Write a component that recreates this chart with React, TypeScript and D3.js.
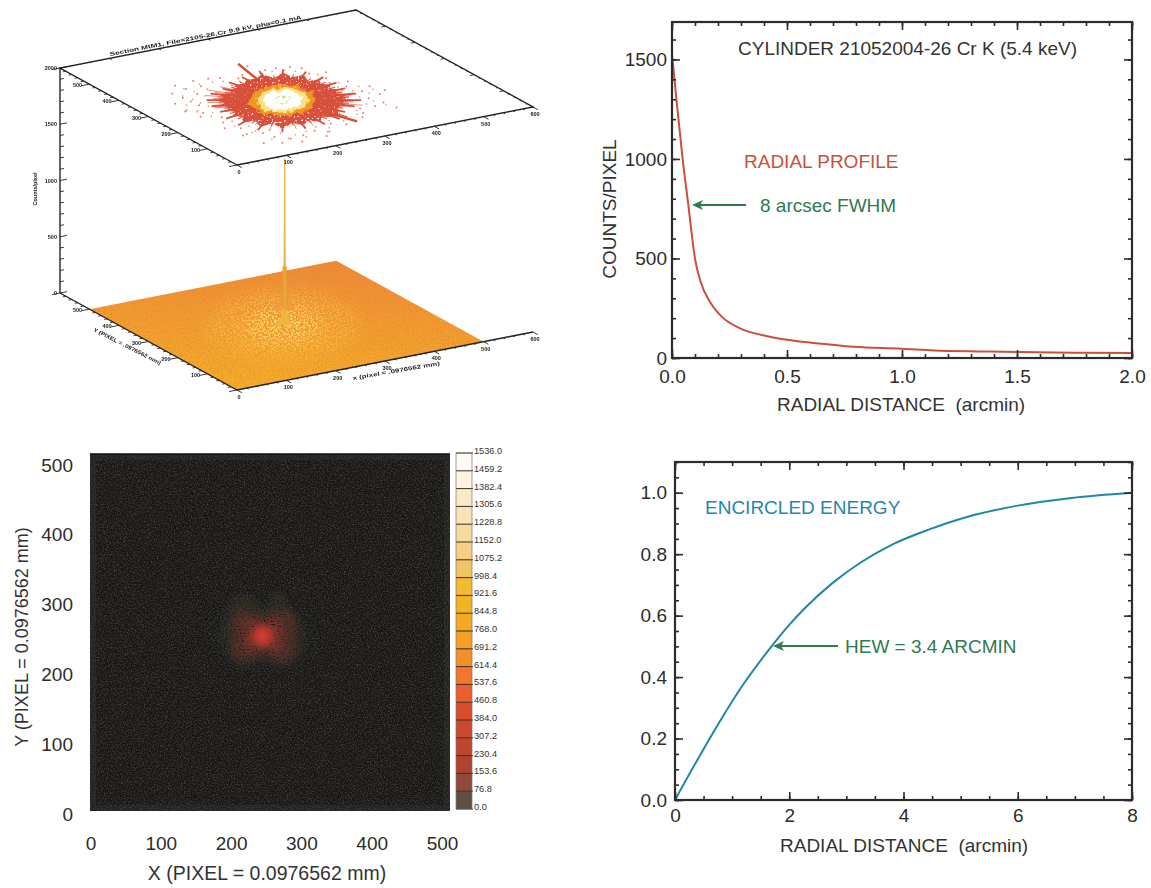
import React, { useEffect, useRef } from 'react';
import * as d3 from 'd3';

// Radial profile (top right)
const profileRadius = [0, 0.02, 0.047, 0.072, 0.083, 0.1, 0.122, 0.169, 0.216, 0.294, 0.42, 0.53, 0.65, 0.79, 1.0, 1.14, 1.36, 1.51, 1.74, 2.0];
const profileCounts = [1527, 1290, 992, 760, 650, 500, 392, 275, 208, 150, 108, 87, 72, 56, 47, 38, 33, 30, 27, 25];

// Encircled energy (bottom right)
const energyRadius = [0, 0.375, 0.75, 1.19, 1.69, 2, 2.25, 2.75, 3.25, 3.81, 4.44, 5.125, 6, 6.94, 8];
const energyFraction = [0, 0.125, 0.245, 0.375, 0.5, 0.57, 0.62, 0.705, 0.773, 0.832, 0.88, 0.922, 0.958, 0.983, 1.0];

// Colour bar next to the image
const barLevels = ['0.0', '76.8', '153.6', '230.4', '307.2', '384.0', '460.8', '537.6', '614.4', '691.2', '768.0', '844.8', '921.6', '998.4', '1075.2', '1152.0', '1228.8', '1305.6', '1382.4', '1459.2', '1536.0'];
const barColors = ['#5f5048', '#8f4a3c', '#b0432f', '#c0462f', '#cb4a2f', '#d84e2c', '#ec5d2b', '#f2772c', '#f68f2a', '#f59f24', '#f5a920', '#f4b323', '#f3bb30', '#f1c564', '#f5d084', '#f7da9c', '#f9e2b3', '#fbeac8', '#fdf3de', '#fefbf2'];

// Star burst, angle in degrees on the page and reach in detector pixels
const burstAngles = [0, 8, 15, 22, 30, 37, 45, 52, 60, 67, 75, 82, 90, 97, 105, 112, 120, 128, 135, 143, 150, 158, 165, 172, 180, 188, 195, 203, 210, 218, 225, 232, 240, 247, 255, 262, 270, 278, 285, 293, 300, 308, 315, 322, 330, 338, 345, 352];
const burstReach = [122, 104, 118, 100, 112, 102, 118, 108, 126, 112, 140, 122, 146, 118, 142, 122, 126, 108, 118, 100, 108, 96, 116, 102, 118, 100, 114, 98, 112, 104, 124, 112, 138, 120, 148, 124, 152, 122, 140, 116, 132, 112, 126, 128, 112, 102, 116, 104];

// Hot contour rings on the top plane
const ringAngles = [0, 15, 30, 45, 60, 75, 90, 105, 120, 135, 150, 165, 180, 195, 210, 225, 240, 255, 270, 285, 300, 315, 330, 345];
const ringReach = [114, 118, 124, 136, 148, 166, 172, 160, 146, 130, 120, 112, 116, 118, 126, 138, 152, 168, 166, 158, 148, 132, 122, 116];

// Loose counts outside the burst
const speckAngles = [4, 11, 19, 26, 33, 41, 48, 57, 63, 72, 79, 86, 94, 101, 109, 118, 124, 133, 139, 147, 153, 161, 168, 176, 183, 191, 198, 206, 212, 221, 229, 236, 244, 251, 259, 266, 274, 281, 289, 296, 304, 311, 319, 327, 334, 342, 349, 356, 158, 170, 186, 200, 17, 349, 270, 262, 279, 250, 292];
const speckRadii = [150, 172, 146, 168, 132, 150, 122, 138, 166, 148, 172, 176, 170, 162, 190, 150, 138, 160, 172, 186, 160, 178, 152, 174, 160, 148, 176, 154, 168, 140, 158, 180, 166, 190, 178, 196, 206, 190, 172, 186, 150, 170, 144, 166, 156, 142, 164, 176, 202, 195, 188, 180, 186, 202, 226, 232, 222, 200, 206];

// Shape of the glow in the image, clockwise from north, in image pixels
const glowAngles = [0, 20, 40, 65, 90, 115, 140, 165, 180, 200, 225, 250, 270, 295, 320, 340];
const glowReach = [40, 68, 55, 58, 60, 60, 55, 42, 34, 45, 58, 55, 62, 60, 68, 62];
const glowRedReach = [28, 34, 50, 52, 44, 50, 50, 30, 26, 32, 50, 48, 42, 48, 50, 34];

// Central spike of the surface plot
const spikeHeights = [0, 30, 70, 130, 220, 340, 520, 560, 800, 1100, 1480];
const spikeHalfWidths = [11, 6, 3.6, 2.4, 1.9, 1.6, 1.5, 1.1, 0.9, 0.8, 0.6];

const axisFont = '"Liberation Sans", Arial, sans-serif';
const inkColor = '#2e2c2b';
const profileColor = '#c9503a';
const energyColor = '#1f87a8';
const noteColor = '#2f7a4f';

const SURFACE_TILT = -31;
const BURST_X = 245;
const BURST_Y = 255;

// 3D plot projection, plot units to page pixels
const planeXtoX = d3.scaleLinear().domain([0, 600]).range([0, 296]);
const planeXtoY = d3.scaleLinear().domain([0, 600]).range([0, -58]);
const planeYtoX = d3.scaleLinear().domain([0, 600]).range([0, -177]);
const planeYtoY = d3.scaleLinear().domain([0, 600]).range([0, -97]);
const heightToY = d3.scaleLinear().domain([0, 2000]).range([0, -225]);
const project = (x: number, y: number, z: number): [number, number] => [
  237 + planeXtoX(x) + planeYtoX(y),
  390 + planeXtoY(x) + planeYtoY(y) + heightToY(z),
];
const burstPoint = (deg: number, reach: number, z: number) => {
  const a = ((deg + SURFACE_TILT) * Math.PI) / 180;
  return project(BURST_X + reach * Math.cos(a), BURST_Y + reach * Math.sin(a), z);
};

type Sel = d3.Selection<any, any, any, any>;

// One framed line chart with inward ticks on all four sides
function framedAxes(
  svg: Sel,
  x: d3.ScaleLinear<number, number>,
  y: d3.ScaleLinear<number, number>,
  xMajor: number[],
  xMinor: number[],
  yMajor: number[],
  yMinor: number[],
  xFormat: (d: number) => string,
  yFormat: (d: number) => string,
  xPad: number,
  yPad: number,
) {
  const [left, right] = x.range();
  const [bottom, top] = y.range();
  const g = svg.append('g');
  const put = (axis: any, tx: number, ty: number) => {
    const a = g.append('g').attr('transform', `translate(${tx},${ty})`).call(axis);
    a.select('.domain').remove();
    a.selectAll('line').attr('stroke', inkColor).attr('stroke-width', 1.6);
    a.selectAll('text').attr('font-family', axisFont).attr('font-size', 19).attr('fill', inkColor);
    return a;
  };
  put(d3.axisBottom(x).tickValues(xMajor).tickSizeInner(-8).tickSizeOuter(0).tickPadding(xPad).tickFormat(xFormat as any), 0, bottom);
  put(d3.axisBottom(x).tickValues(xMinor).tickSizeInner(-4).tickSizeOuter(0).tickFormat(() => ''), 0, bottom);
  put(d3.axisTop(x).tickValues(xMajor).tickSizeInner(-8).tickSizeOuter(0).tickFormat(() => ''), 0, top);
  put(d3.axisTop(x).tickValues(xMinor).tickSizeInner(-4).tickSizeOuter(0).tickFormat(() => ''), 0, top);
  put(d3.axisLeft(y).tickValues(yMajor).tickSizeInner(-8).tickSizeOuter(0).tickPadding(yPad).tickFormat(yFormat as any), left, 0);
  put(d3.axisLeft(y).tickValues(yMinor).tickSizeInner(-4).tickSizeOuter(0).tickFormat(() => ''), left, 0);
  put(d3.axisRight(y).tickValues(yMajor).tickSizeInner(-8).tickSizeOuter(0).tickFormat(() => ''), right, 0);
  put(d3.axisRight(y).tickValues(yMinor).tickSizeInner(-4).tickSizeOuter(0).tickFormat(() => ''), right, 0);
  g.append('rect')
    .attr('x', left).attr('y', top)
    .attr('width', right - left).attr('height', bottom - top)
    .attr('fill', 'none').attr('stroke', inkColor).attr('stroke-width', 2.2);
}

function label(svg: Sel, text: string, x: number, y: number, size: number, fill: string, anchor = 'start', rotate = 0) {
  return svg.append('text')
    .attr('transform', `translate(${x},${y}) rotate(${rotate})`)
    .attr('font-family', axisFont)
    .attr('font-size', size)
    .attr('fill', fill)
    .attr('text-anchor', anchor)
    .style('white-space', 'pre')
    .text(text);
}

function arrowNote(svg: Sel, fromX: number, toX: number, y: number) {
  svg.append('line')
    .attr('x1', fromX).attr('x2', toX + 4).attr('y1', y).attr('y2', y)
    .attr('stroke', noteColor).attr('stroke-width', 1.8);
  svg.append('path')
    .attr('d', `M${toX},${y}L${toX + 11},${y - 5}L${toX + 8},${y}L${toX + 11},${y + 5}Z`)
    .attr('fill', noteColor);
}

function drawProfile(svg: Sel) {
  const x = d3.scaleLinear().domain([0, 2]).range([672, 1132]);
  const y = d3.scaleLinear().domain([0, 1688]).range([358, 22]);
  const line = d3.line<number>()
    .x((d) => x(d))
    .y((_, i) => y(profileCounts[i]))
    .curve(d3.curveMonotoneX);
  svg.append('path').attr('d', line(profileRadius)).attr('fill', 'none').attr('stroke', profileColor).attr('stroke-width', 2);
  framedAxes(svg, x, y,
    [0, 0.5, 1, 1.5, 2], d3.range(0, 2.01, 0.1),
    [0, 500, 1000, 1500], d3.range(0, 1601, 100),
    d3.format('.1f'), d3.format('d'), 12, 5);
  label(svg, 'CYLINDER 21052004-26 Cr K (5.4 keV)', 738, 55, 19, '#333');
  label(svg, 'RADIAL PROFILE', 744, 168, 19, profileColor);
  label(svg, '8 arcsec FWHM', 760, 212, 19, noteColor);
  arrowNote(svg, 746, 692, 205);
  label(svg, 'RADIAL DISTANCE  (arcmin)', 777, 411, 19, '#333');
  label(svg, 'COUNTS/PIXEL', 616, 209, 19, '#333', 'middle', -90);
}

function drawEnergy(svg: Sel) {
  const x = d3.scaleLinear().domain([0, 8]).range([675, 1132]);
  const y = d3.scaleLinear().domain([0, 1.1]).range([800, 462]);
  const line = d3.line<number>()
    .x((d) => x(d))
    .y((_, i) => y(energyFraction[i]))
    .curve(d3.curveMonotoneX);
  svg.append('path').attr('d', line(energyRadius)).attr('fill', 'none').attr('stroke', energyColor).attr('stroke-width', 2);
  framedAxes(svg, x, y,
    [0, 2, 4, 6, 8], d3.range(0, 8.01, 0.5),
    [0, 0.2, 0.4, 0.6, 0.8, 1], d3.range(0, 1.101, 0.05),
    d3.format('d'), d3.format('.1f'), 9, 8);
  label(svg, 'ENCIRCLED ENERGY', 705, 514, 19, energyColor);
  label(svg, 'HEW = 3.4 ARCMIN', 845, 653, 19, noteColor);
  arrowNote(svg, 838, 773, 646);
  label(svg, 'RADIAL DISTANCE  (arcmin)', 780, 852, 19, '#333');
}

function drawImage(svg: Sel) {
  const x = d3.scaleLinear().domain([0, 500]).range([90.5, 442]);
  const y = d3.scaleLinear().domain([0, 500]).range([814, 465]);
  const left = 90, right = 450, top = 454, bottom = 811;

  svg.append('rect').attr('x', left).attr('y', top).attr('width', right - left).attr('height', bottom - top).attr('fill', '#171615');
  svg.append('rect').attr('x', left).attr('y', top).attr('width', right - left).attr('height', bottom - top).attr('fill', '#fff').attr('filter', 'url(#imageGrain)');
  svg.append('rect').attr('x', left + 3).attr('y', top + 3).attr('width', right - left - 6).attr('height', bottom - top - 6).attr('fill', 'none').attr('stroke', '#3a3a38').attr('stroke-width', 6).attr('stroke-opacity', 0.3);
  svg.append('line').attr('x1', left).attr('x2', right).attr('y1', top).attr('y2', top).attr('stroke', '#111').attr('stroke-width', 1.4);

  // Glow: a dim lobed outline with two red layers above it
  const pxPerUnit = x(1) - x(0);
  const cx = x(BURST_X), cy = y(BURST_Y);
  const glow = d3.lineRadial<number>()
    .angle((d) => (d * Math.PI) / 180)
    .curve(d3.curveCatmullRomClosed);
  const layers: [number[], number, string, number][] = [
    [glowReach, 1, '#3a3b2b', 0.55],
    [glowRedReach, 1, '#5e2e28', 0.85],
    [glowRedReach, 0.62, '#83342b', 0.8],
  ];
  layers.forEach(([reach, scale, fill, opacity]) => {
    glow.radius((_, i) => reach[i] * scale * pxPerUnit);
    svg.append('path')
      .attr('transform', `translate(${cx},${cy})`)
      .attr('d', glow(glowAngles))
      .attr('fill', fill).attr('fill-opacity', opacity)
      .attr('filter', 'url(#imageSpeckle)');
  });
  svg.append('circle').attr('cx', cx).attr('cy', cy).attr('r', 15).attr('fill', 'url(#glowCore)');

  const put = (axis: any, tx: number, ty: number) => {
    const a = svg.append('g').attr('transform', `translate(${tx},${ty})`).call(axis);
    a.select('.domain').remove();
    a.selectAll('line').remove();
    a.selectAll('text').attr('font-family', axisFont).attr('font-size', 19).attr('fill', inkColor);
  };
  put(d3.axisBottom(x).tickValues([0, 100, 200, 300, 400, 500]).tickSize(0).tickPadding(15), 0, 822);
  put(d3.axisLeft(y).tickValues([0, 100, 200, 300, 400, 500]).tickSize(0).tickPadding(10), 83, 0);
  label(svg, 'X (PIXEL = 0.0976562 mm)', 267, 880, 19.5, '#333', 'middle');
  label(svg, 'Y (PIXEL = 0.0976562 mm)', 28, 637, 18, '#333', 'middle', -90);

  // Colour bar
  const bar = d3.scaleLinear().domain([0, 20]).range([809, 453]);
  const barX = 456, barW = 16;
  svg.append('g').selectAll('rect').data(barColors).join('rect')
    .attr('x', barX).attr('y', (_, i) => bar(i + 1))
    .attr('width', barW).attr('height', (_, i) => bar(i) - bar(i + 1))
    .attr('fill', (d) => d);
  svg.append('g').selectAll('line').data(barLevels).join('line')
    .attr('x1', barX).attr('x2', barX + barW + 1)
    .attr('y1', (_, i) => bar(i)).attr('y2', (_, i) => bar(i))
    .attr('stroke', '#3a2c24').attr('stroke-width', 1);
  svg.append('rect').attr('x', barX).attr('y', 453).attr('width', barW).attr('height', 356).attr('fill', 'none').attr('stroke', '#777').attr('stroke-width', 0.7);
  svg.append('g').selectAll('text').data(barLevels).join('text')
    .attr('x', barX + barW + 2).attr('y', (_, i) => bar(i) + 1)
    .attr('font-family', axisFont).attr('font-size', 9.2).attr('fill', '#333')
    .text((d) => d);
}

function drawSurface(svg: Sel) {
  const g = svg.append('g').attr('filter', 'url(#soften)');
  const path = d3.line();

  // Floor of the surface
  const floorCorners = [[0, 0], [500, 0], [500, 500], [0, 500]].map(([a, b]) => project(a, b, 0));
  g.append('path').attr('d', path(floorCorners) + 'Z').attr('fill', 'url(#floorFill)');
  g.append('path').attr('d', path(floorCorners) + 'Z').attr('fill', '#e07f22').attr('filter', 'url(#floorGrain)');

  // Burst drawn on the floor and on the top plane
  const ring = d3.line().curve(d3.curveCardinalClosed);
  const contour = (z: number, scale: number) =>
    ring(ringAngles.map((a, i) => burstPoint(a, ringReach[i] * scale, z)));
  g.append('path').attr('d', contour(0, 1.15)).attr('fill', '#f7c74a').attr('fill-opacity', 0.55).attr('filter', 'url(#softSpeckle)');
  g.append('path').attr('d', contour(0, 0.6)).attr('fill', '#fad66e').attr('fill-opacity', 0.85).attr('filter', 'url(#softSpeckle)');

  // Spike
  const spike = d3.area<number>()
    .x0((_, i) => burstPoint(0, 0, 0)[0] + 2 - spikeHalfWidths[i])
    .x1((_, i) => burstPoint(0, 0, 0)[0] + 2 + spikeHalfWidths[i])
    .y((d) => burstPoint(0, 0, d)[1]);
  g.append('path').attr('d', spike(spikeHeights)).attr('fill', '#f0b540');
  g.append('path')
    .attr('d', spike(spikeHeights.slice(3, 7)))
    .attr('fill', '#e69a3a').attr('fill-opacity', 0.6);

  // Top plane contour, fibres first, then the dense body, then the rings
  const zTop = 2000;
  const fibres = g.append('g').attr('stroke', '#d8503a');
  burstAngles.forEach((a, i) => {
    fibres.append('path')
      .attr('d', path([burstPoint(a, 50, zTop), burstPoint(a, burstReach[i] * 1.12, zTop)]))
      .attr('stroke-width', i % 2 === 0 ? 1.8 : 1.1);
  });
  speckAngles.forEach((a, i) => {
    fibres.append('path')
      .attr('d', path([burstPoint(a, 60, zTop), burstPoint(a, speckRadii[i] * 0.7, zTop)]))
      .attr('stroke-width', 0.8).attr('stroke-opacity', 0.8);
  });
  g.append('path').attr('d', path(burstAngles.map((a, i) => burstPoint(a, burstReach[i], zTop))) + 'Z').attr('fill', '#d8503a').attr('filter', 'url(#speckle)');
  speckAngles.forEach((a, i) => {
    const [sx, sy] = burstPoint(a, speckRadii[i], zTop);
    g.append('circle').attr('cx', sx).attr('cy', sy).attr('r', 1).attr('fill', '#d8604a').attr('fill-opacity', 0.8);
    const [tx, ty] = burstPoint(a + 3, speckRadii[i] * 0.9, zTop);
    g.append('circle').attr('cx', tx).attr('cy', ty).attr('r', 0.8).attr('fill', '#d8604a').attr('fill-opacity', 0.75);
  });
  // Two long streaks
  [[112, 105, 208], [319, 110, 172]].forEach(([a, r0, r1]) => {
    g.append('path')
      .attr('d', path([burstPoint(a, r0, zTop), burstPoint(a, r1, zTop)]))
      .attr('stroke', '#d8503a').attr('stroke-width', 2.4);
  });
  g.append('path').attr('d', contour(zTop, 0.5)).attr('fill', '#f0981f').attr('filter', 'url(#rough)');
  g.append('path').attr('d', contour(zTop, 0.4)).attr('fill', '#fbe08a').attr('filter', 'url(#rough)');
  g.append('path').attr('d', contour(zTop, 0.3)).attr('fill', '#ffffff').attr('filter', 'url(#rough)');
  g.append('path').attr('d', contour(zTop, 0.09)).attr('fill', 'none').attr('stroke', '#c4d66c').attr('stroke-width', 1).attr('filter', 'url(#rough)');

  // Axis lines
  const edge = (pts: [number, number, number][], width = 1.4) =>
    g.append('path')
      .attr('d', path(pts.map((p) => project(p[0], p[1], p[2]))))
      .attr('fill', 'none').attr('stroke', '#222').attr('stroke-width', width);
  edge([[0, 600, 0], [0, 0, 0], [600, 0, 0]]);
  edge([[0, 600, 0], [0, 600, 2000]]);
  edge([[0, 0, 2000], [600, 0, 2000], [600, 600, 2000], [0, 600, 2000], [0, 0, 2000]]);

  const tick = (a: [number, number, number], b: [number, number, number], w = 0.9) =>
    g.append('path').attr('d', path([project(...a), project(...b)])).attr('stroke', '#222').attr('stroke-width', w);
  const small = (text: string, p: [number, number], rotate = 0, anchor = 'middle') =>
    g.append('text')
      .attr('transform', `translate(${p[0]},${p[1]}) rotate(${rotate})`)
      .attr('font-family', axisFont).attr('font-size', 5.5).attr('font-weight', 700)
      .attr('fill', '#222').attr('text-anchor', anchor).text(text);

  [0, 2000].forEach((z) => {
    d3.range(0, 601, 20).forEach((v) => {
      const len = v % 100 === 0 ? 16 : 6;
      tick([v, 0, z], [v, -len, z]);
      tick([0, v, z], [-len, v, z]);
      if (z === 2000) {
        tick([v, 600, z], [v, 600 - len / 2, z]);
        tick([600, v, z], [600 - len / 2, v, z]);
      }
    });
    d3.range(0, 601, 100).forEach((v) => {
      const pxX = project(v, 0, z);
      const pxY = project(0, v, z);
      small(String(v), [pxX[0] + 2, pxX[1] + 9]);
      if (v > 0 && v < 600) small(String(v), [pxY[0] - 12, pxY[1] + 3]);
    });
  });
  d3.range(0, 2001, 100).forEach((z) => tick([0, 600, z], [z % 500 === 0 ? 14 : 8, 600, z]));
  [0, 500, 1000, 1500, 2000].forEach((z) => {
    const p = project(0, 600, z);
    small(String(z), [p[0] - 3, p[1] + 2], 0, 'end');
  });

  const along = (text: string, from: [number, number], to: [number, number]) => {
    const angle = (Math.atan2(to[1] - from[1], to[0] - from[0]) * 180) / Math.PI;
    small(text, from, angle, 'start')
      .attr('textLength', Math.hypot(to[0] - from[0], to[1] - from[1]))
      .attr('lengthAdjust', 'spacingAndGlyphs');
  };
  along('x (pixel = .0976562 mm)', [353, 380], [440, 365]);
  along('Y (PIXEL = .0976562 mm)', [93, 331], [160, 365]);
  along('Section MtM1, File=2105-26.Cr 9.9 kV, pha=0.1 mA', [110, 56], [302, 19]);
  small('Counts/pixel', [37, 189], -90);
}

const App = () => {
  const ref = useRef<SVGSVGElement>(null);

  useEffect(() => {
    const svg = d3.select(ref.current).select<SVGGElement>('g.marks');
    svg.selectAll('*').remove();
    drawSurface(svg);
    drawProfile(svg);
    drawImage(svg);
    drawEnergy(svg);
  }, []);

  return (
    <svg ref={ref} width={1151} height={888} style={{ position: 'absolute', left: 0, top: 0, background: '#fff' }}>
      <defs>
        <linearGradient id="floorFill" x1="0.55" y1="0" x2="0.45" y2="1">
          <stop offset="0" stopColor="#ee8a3a" />
          <stop offset="1" stopColor="#f5b02a" />
        </linearGradient>
        <radialGradient id="glowCore">
          <stop offset="0" stopColor="#d33f33" />
          <stop offset="0.55" stopColor="#bd382e" stopOpacity="0.8" />
          <stop offset="1" stopColor="#93342a" stopOpacity="0" />
        </radialGradient>
        <filter id="soften" x="-5%" y="-5%" width="110%" height="110%">
          <feGaussianBlur stdDeviation="0.35" />
        </filter>
        <filter id="speckle" x="-10%" y="-10%" width="120%" height="120%">
          <feTurbulence type="fractalNoise" baseFrequency="0.5" numOctaves="2" seed="4" />
          <feColorMatrix values="0 0 0 0 0  0 0 0 0 0  0 0 0 0 0  9 0 0 0 -2.8" result="holes" />
          <feComposite in="SourceGraphic" in2="holes" operator="in" />
        </filter>
        <filter id="rough" x="-20%" y="-30%" width="140%" height="160%">
          <feTurbulence type="fractalNoise" baseFrequency="0.16" numOctaves="2" seed="6" result="warp" />
          <feDisplacementMap in="SourceGraphic" in2="warp" scale="9" xChannelSelector="R" yChannelSelector="G" />
        </filter>
        <filter id="softSpeckle" x="-20%" y="-20%" width="140%" height="140%">
          <feGaussianBlur stdDeviation="7" result="soft" />
          <feTurbulence type="fractalNoise" baseFrequency="0.55" numOctaves="2" seed="11" />
          <feColorMatrix values="0 0 0 0 0  0 0 0 0 0  0 0 0 0 0  7 0 0 0 -3.2" result="holes" />
          <feComposite in="soft" in2="holes" operator="in" />
        </filter>
        <filter id="floorGrain" x="0" y="0" width="100%" height="100%">
          <feTurbulence type="fractalNoise" baseFrequency="0.7" numOctaves="2" seed="9" />
          <feColorMatrix values="0 0 0 0 0  0 0 0 0 0  0 0 0 0 0  1.6 0 0 0 -0.7" result="dots" />
          <feComposite in="SourceGraphic" in2="dots" operator="in" />
        </filter>
        <filter id="imageGrain" x="0" y="0" width="100%" height="100%">
          <feTurbulence type="fractalNoise" baseFrequency="0.7" numOctaves="2" seed="7" />
          <feColorMatrix values="0 0 0 0 0.17  0 0 0 0 0.165  0 0 0 0 0.155  1.2 0 0 0 -0.5" />
        </filter>
        <filter id="imageSpeckle" x="-15%" y="-15%" width="130%" height="130%">
          <feGaussianBlur stdDeviation="3.5" result="soft" />
          <feTurbulence type="fractalNoise" baseFrequency="0.6" numOctaves="1" seed="2" />
          <feColorMatrix values="0 0 0 0 0  0 0 0 0 0  0 0 0 0 0  4 0 0 0 -1.1" result="holes" />
          <feComposite in="soft" in2="holes" operator="in" />
        </filter>
      </defs>
      <g className="marks" />
    </svg>
  );
};

export default App;
